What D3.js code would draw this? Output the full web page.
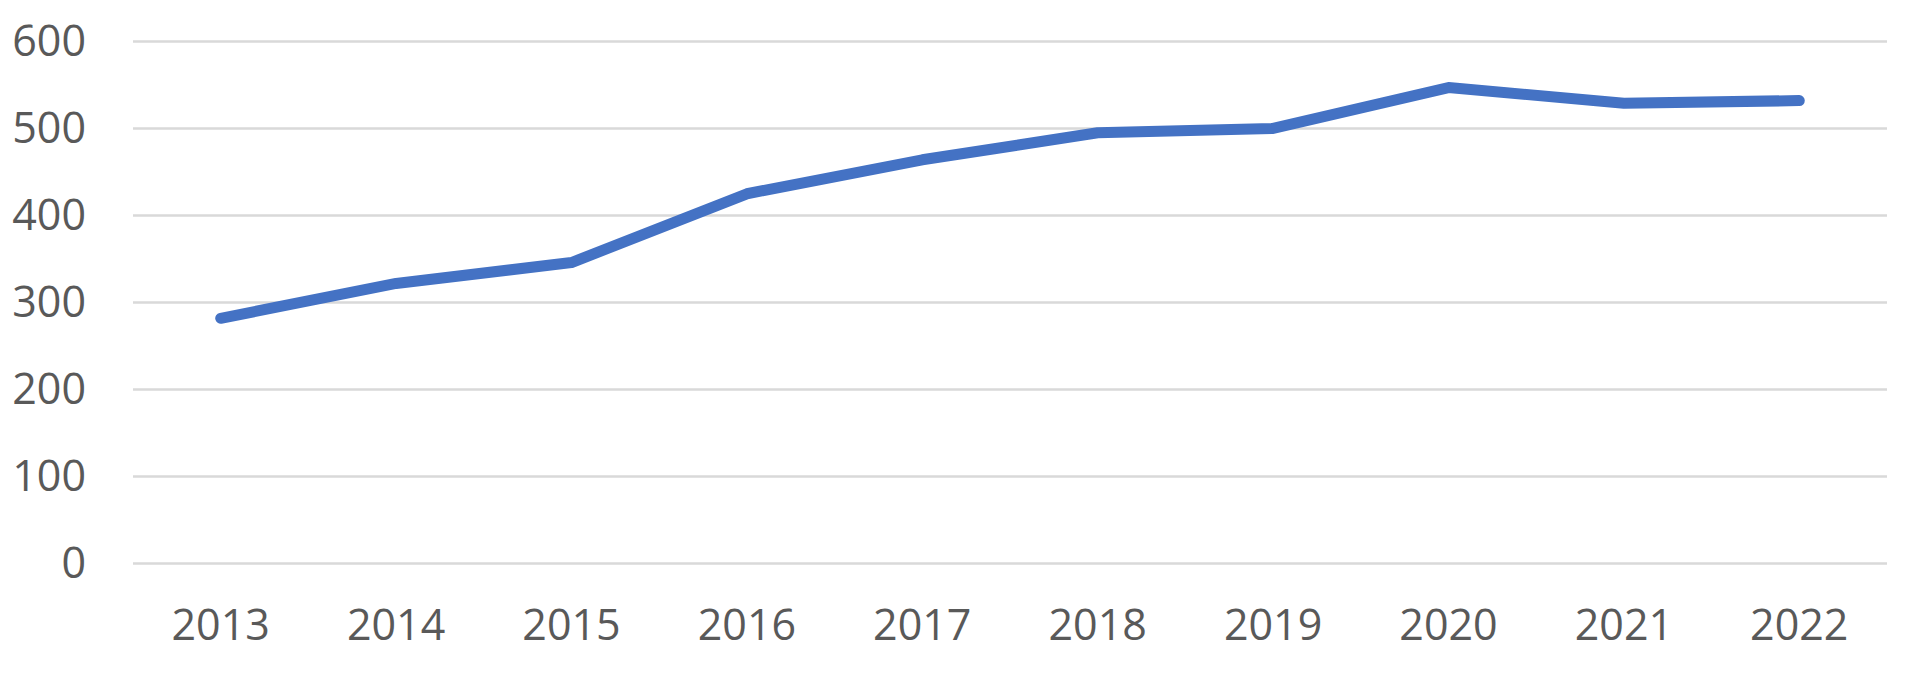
<!DOCTYPE html>
<html>
<head>
<meta charset="utf-8">
<script src="https://cdn.jsdelivr.net/npm/d3@7"></script>
<style>
  html, body { margin: 0; padding: 0; background: #fff; }
  svg text { font-family: "Open Sans", "Noto Sans", sans-serif; fill: #595959; }
</style>
</head>
<body>
<svg id="chart" width="1909" height="677"></svg>
<script>
const years = ["2013", "2014", "2015", "2016", "2017", "2018", "2019", "2020", "2021", "2022"];
const values = [281, 321, 345, 424, 463, 494, 499, 546, 528, 531];
const yTicks = [0, 100, 200, 300, 400, 500, 600];

// plot area
const plot = {left: 133, right: 1887, top: 40.5, bottom: 563};

const svg = d3.select("#chart");

const x = d3.scaleBand()
  .domain(years)
  .range([plot.left, plot.right]);

const y = d3.scaleLinear()
  .domain([0, 600])
  .range([plot.bottom, plot.top]);

// gridlines
svg.append("g")
  .selectAll("line")
  .data(yTicks)
  .join("line")
  .attr("x1", plot.left)
  .attr("x2", plot.right)
  .attr("y1", d => Math.round(y(d)) + 0.5)
  .attr("y2", d => Math.round(y(d)) + 0.5)
  .attr("stroke", "#d9d9d9")
  .attr("stroke-width", 2.5);

// y labels
svg.append("g")
  .selectAll("text")
  .data(yTicks)
  .join("text")
  .attr("x", 86)
  .attr("y", d => y(d))
  .attr("dy", "0.36em")
  .attr("text-anchor", "end")
  .attr("font-size", 43)
  .text(d => d);

// x labels
svg.append("g")
  .selectAll("text")
  .data(years)
  .join("text")
  .attr("x", d => x(d) + x.bandwidth() / 2)
  .attr("y", 640)
  .attr("text-anchor", "middle")
  .attr("font-size", 43)
  .text(d => d);

// line
const line = d3.line()
  .x((d, i) => x(years[i]) + x.bandwidth() / 2)
  .y(d => y(d));

svg.append("path")
  .datum(values)
  .attr("d", line)
  .attr("fill", "none")
  .attr("stroke", "#4472c4")
  .attr("stroke-width", 11)
  .attr("stroke-linecap", "round")
  .attr("stroke-linejoin", "round");
</script>
</body>
</html>
